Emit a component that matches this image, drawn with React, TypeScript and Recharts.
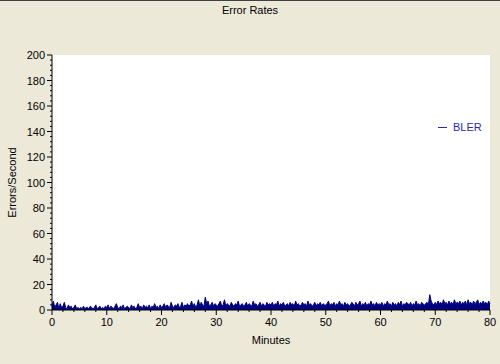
import React from 'react';
import { ComposedChart, Area, XAxis, YAxis, Legend, ReferenceArea, Label } from 'recharts';

// BLER errors/second, one sample every 15 s (0..80 min)
const BLER_VALUES = [
  3, 7, 2, 4, 6, 1, 5, 2, 3, 6, 2, 1, 4, 2, 3, 1, 2, 4, 1, 2,
  1, 2, 1, 3, 1, 2, 2, 1, 3, 2, 1, 2, 4, 1, 2, 3, 1, 2, 1, 3,
  2, 4, 1, 3, 2, 1, 3, 5, 2, 1, 3, 2, 4, 1, 2, 3, 2, 1, 4, 2,
  3, 1, 2, 5, 2, 3, 1, 4, 2, 3, 2, 4, 1, 3, 2, 5, 2, 3, 1, 4,
  2, 3, 5, 2, 4, 3, 2, 6, 3, 2, 4, 3, 5, 2, 3, 6, 2, 4, 3, 5,
  3, 4, 7, 3, 5, 2, 4, 8, 3, 6, 4, 3, 10, 5, 7, 3, 4, 6, 3, 5,
  4, 3, 5, 7, 3, 4, 8, 3, 5, 4, 3, 6, 4, 3, 5, 4, 7, 3, 4, 5,
  3, 4, 6, 3, 5, 4, 3, 7, 4, 5, 3, 4, 6, 3, 5, 4, 3, 6, 4, 5,
  4, 6, 3, 5, 4, 7, 3, 5, 4, 6, 3, 4, 5, 3, 6, 4, 5, 3, 7, 4,
  5, 3, 4, 6, 4, 5, 3, 7, 4, 5, 3, 4, 6, 3, 5, 4, 6, 3, 5, 4,
  4, 5, 7, 3, 5, 4, 6, 3, 5, 4, 7, 4, 5, 3, 6, 4, 5, 3, 4, 6,
  5, 3, 6, 4, 5, 7, 3, 5, 4, 6, 3, 5, 4, 7, 4, 5, 3, 6, 4, 5,
  4, 6, 3, 5, 4, 7, 4, 5, 3, 6, 4, 5, 3, 6, 4, 7, 3, 5, 4, 6,
  5, 4, 6, 3, 5, 4, 7, 4, 5, 3, 6, 5, 4, 5, 6, 4, 12, 7, 5, 4,
  6, 4, 7, 5, 6, 4, 8, 5, 6, 4, 7, 5, 6, 4, 8, 5, 6, 5, 7, 4,
  6, 5, 7, 4, 8, 5, 6, 4, 7, 5, 6, 8, 4, 6, 5, 7, 5, 6, 4, 7,
  5,
];

const X_TICKS = [0, 2, 4, 6, 8, 10, 12, 14, 16, 18, 20, 22, 24, 26, 28, 30, 32, 34, 36, 38, 40, 42, 44, 46, 48, 50, 52, 54, 56, 58, 60, 62, 64, 66, 68, 70, 72, 74, 76, 78, 80];
const Y_TICKS = [
  0, 4, 8, 12, 16, 20, 24, 28, 32, 36, 40, 44, 48, 52, 56, 60, 64, 68, 72, 76, 80, 84, 88, 92, 96, 100,
  104, 108, 112, 116, 120, 124, 128, 132, 136, 140, 144, 148, 152, 156, 160, 164, 168, 172, 176, 180, 184, 188, 192, 196, 200,
];

const data = BLER_VALUES.map((v, i) => ({ minute: i / 4, bler: v }));

const FONT = '"Liberation Sans", Arial, sans-serif';
const NAVY = '#000080';

const YTick = (props: any) => {
  const { x, y, payload } = props;
  const major = payload.value % 20 === 0;
  return (
    <g>
      <line x1={x - (major ? 5 : 2)} x2={x} y1={y} y2={y} stroke="#000" />
      {major && (
        <text x={x - 7} y={y} dy={4} textAnchor="end" fontSize={11} fontFamily={FONT} fill="#000">
          {payload.value}
        </text>
      )}
    </g>
  );
};

const XTick = (props: any) => {
  const { x, y, payload } = props;
  const major = payload.value % 10 === 0;
  return (
    <g>
      <line x1={x} x2={x} y1={y} y2={y + (major ? 5 : 2)} stroke="#000" />
      {major && (
        <text x={x} y={y + 16} textAnchor="middle" fontSize={11} fontFamily={FONT} fill="#000">
          {payload.value}
        </text>
      )}
    </g>
  );
};

const LegendContent = (props: any) => (
  <div style={{ fontFamily: FONT, fontSize: 11, color: '#2a2aa6', whiteSpace: 'nowrap' }}>
    {props.payload.map((p: any) => (
      <div key={p.value} style={{ display: 'flex', alignItems: 'center' }}>
        <span style={{ display: 'inline-block', width: 9, height: 1, background: '#2a2aa6', marginRight: 6 }} />
        {p.value}
      </div>
    ))}
  </div>
);

export default function App() {
  return (
    <div style={{ position: 'absolute', left: 0, top: 0, width: 500, height: 364, background: '#ECE9D8', borderTop: '1px solid #404040', boxSizing: 'border-box' }}>
      <div style={{ position: 'absolute', top: 3, width: 500, textAlign: 'center', fontFamily: FONT, fontSize: 11 }}>
        Error Rates
      </div>
      <ComposedChart width={500} height={363} data={data} margin={{ top: 54, right: 10, bottom: 12, left: 0 }}>
        <ReferenceArea x1={0} x2={80} y1={0} y2={200} fill="#fff" fillOpacity={1} stroke="none" ifOverflow="visible" />
        <XAxis
          dataKey="minute"
          type="number"
          domain={[0, 80]}
          ticks={X_TICKS}
          interval={0}
          tick={<XTick />}
          tickSize={0}
          tickMargin={0}
          stroke="#000"
          height={30}
        >
          <Label value="Minutes" position="insideBottom" offset={-4} fontSize={11} fontFamily={FONT} fill="#000" />
        </XAxis>
        <YAxis
          type="number"
          domain={[0, 200]}
          ticks={Y_TICKS}
          interval={0}
          tick={<YTick />}
          tickSize={0}
          tickMargin={0}
          stroke="#000"
          width={52}
        >
          <Label value="Errors/Second" angle={-90} position="insideLeft" offset={12} fontSize={11} fontFamily={FONT} fill="#000" style={{ textAnchor: 'middle' }} />
        </YAxis>
        <Legend content={<LegendContent />} wrapperStyle={{ position: 'absolute', left: 438, top: 120, width: 'auto' }} />
        <Area
          type="linear"
          dataKey="bler"
          name="BLER"
          stroke={NAVY}
          strokeWidth={1}
          fill={NAVY}
          fillOpacity={1}
          isAnimationActive={false}
          dot={false}
          activeDot={false}
        />
      </ComposedChart>
    </div>
  );
}
